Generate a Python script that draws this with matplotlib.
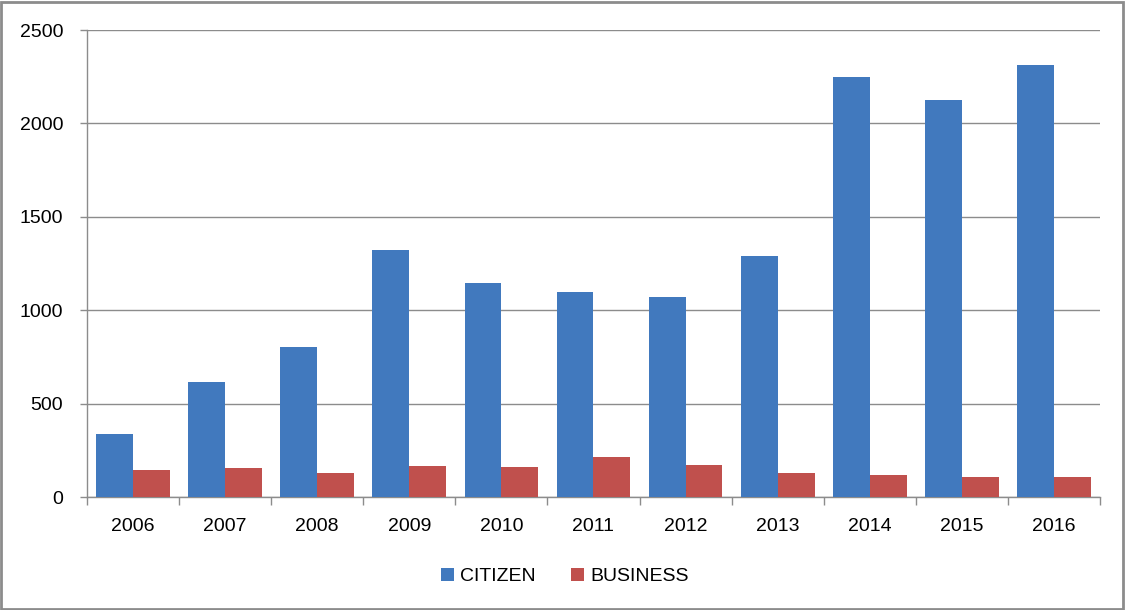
import numpy as np
import matplotlib.pyplot as plt
from matplotlib.patches import Rectangle

years = ['2006', '2007', '2008', '2009', '2010', '2011',
         '2012', '2013', '2014', '2015', '2016']
citizen = [337, 615, 803, 1322, 1146, 1097, 1071, 1290, 2248, 2125, 2312]
business = [145, 155, 128, 166, 160, 214, 171, 128, 118, 107, 107]

plt.rcParams['font.family'] = ['Liberation Sans', 'DejaVu Sans']

fig = plt.figure(figsize=(11.25, 6.1), dpi=100)
ax = fig.add_axes([0.0773, 0.1852, 0.9005, 0.7656])

x = np.arange(len(years))
w = 0.4
ax.bar(x - w / 2, citizen, w, color='#4179BE', label='CITIZEN', zorder=3)
ax.bar(x + w / 2, business, w, color='#C0504D', label='BUSINESS', zorder=3)

ax.set_xlim(-0.5, len(years) - 0.5)
ax.set_ylim(0, 2500)
ax.set_yticks(np.arange(0, 2501, 500))
ax.yaxis.grid(True, color='#8c8c8c', linewidth=1, zorder=0)

ax.set_xticks(x)
ax.set_xticklabels(years)
ax.set_xticks(np.arange(-0.5, len(years)), minor=True)
ax.tick_params(axis='x', which='major', length=0, pad=15, labelsize=14)
ax.tick_params(axis='x', which='minor', length=6, color='#8c8c8c', width=1)
ax.tick_params(axis='y', length=5, color='#8c8c8c', width=1, pad=12, labelsize=14)

for s in ['top', 'right']:
    ax.spines[s].set_visible(False)
for s in ['left', 'bottom']:
    ax.spines[s].set_color('#8c8c8c')
    ax.spines[s].set_linewidth(1)

fig.legend(loc='center', bbox_to_anchor=(0.502, 0.055), ncol=2, frameon=False,
           fontsize=14, handlelength=0.7, handleheight=0.7, handletextpad=0.3,
           columnspacing=1.8)

fig.patches.append(Rectangle((0.001, 0.002), 0.997, 0.995, transform=fig.transFigure,
                             fill=False, edgecolor='#8c8c8c', linewidth=2))

fig.savefig('out.png', dpi=100)
